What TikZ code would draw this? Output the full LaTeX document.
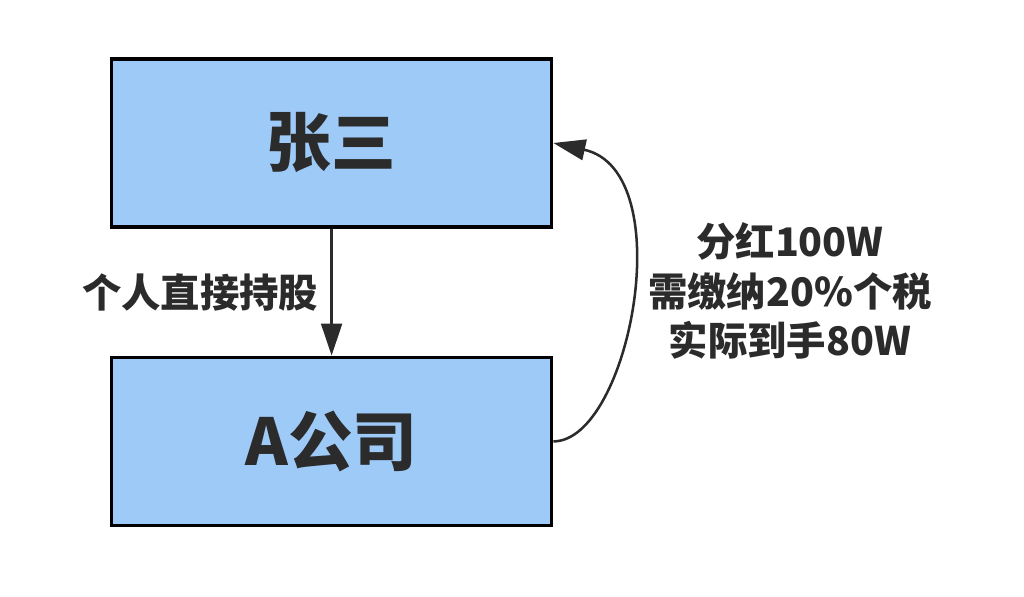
\documentclass[tikz,border=0pt]{standalone}
\usepackage{fontspec}
\setmainfont{Noto Sans CJK SC}
\usepackage{tikz}
\usetikzlibrary{%
  arrows.meta,%
  positioning,% wg. " of "
  calc%
}
\definecolor{boxblue}{HTML}{9ECAF8}
\definecolor{inkgray}{HTML}{2B2B2B}

\begin{document}
\begin{tikzpicture}[
  font=\bfseries,
  >={Triangle[length=8mm, width=5.2mm]},
  line width=1.8pt,
  party/.style={rectangle, minimum height=4.2cm, minimum width=11cm, draw=black, fill=boxblue, line width=2.5pt, text=inkgray, font=\fontsize{46}{50}\selectfont\bfseries},
  note/.style={text=inkgray, inner sep=0pt, align=center, font=\fontsize{28}{35.5}\selectfont\bfseries}
]

\useasboundingbox (0,0) rectangle (25.6,14.925);

\node[party] (zs) at (8.29,11.35) {张三};
\node[party] (ac) at (8.29,3.89) {A公司};

\draw[->, inkgray] (zs) -- node[note, midway, left=0.3cm] (hold) {个人直接持股} (ac);

\draw[->, inkgray] (ac.east) .. controls +(1.9,0) and +(3.2,-0.7) .. (zs.east);

\node[note] (div) at (19.75,7.65) {分红100W\\需缴纳20\%个税\\实际到手80W};

\end{tikzpicture}
\end{document}
